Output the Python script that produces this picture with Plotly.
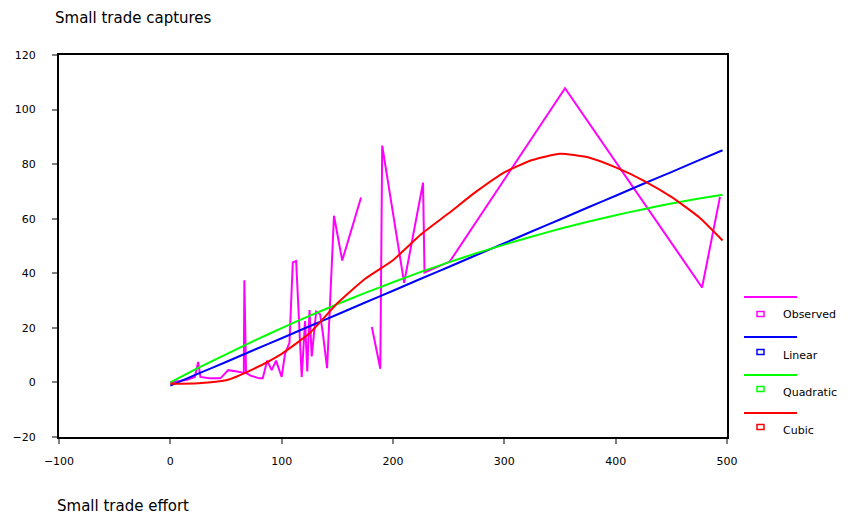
import plotly.graph_objects as go

# ---- data ----
obs_x = [0, 8, 15, 22, 25, 27, 35, 45, 52, 60, 66, 66.5, 68, 72, 80, 83, 87, 91, 95, 100,
         103, 107, 110, 113, 118, 121, 123, 125, 127, 131, 134.5, 137, 140.8, 147, 154.4, 171.3,
         176, 181, 188.6, 190.3, 210, 227, 228.3, 238, 251, 354.5, 477.6, 493.7]
obs_y = [0, 0.5, 1, 2, 7.5, 2, 1.5, 1.5, 4.5, 4, 3.5, 37.4, 3.5, 2.5, 1.5, 1.5, 8, 4.5, 8, 2,
         10.5, 14.5, 44, 44.5, 2, 22.5, 4, 26.5, 9.5, 26, 25, 18, 5.2, 61.1, 44.7, 67.8,
         None, 20.3, 5.0, 86.8, 36.5, 73.2, 40.3, 42, 44.3, 107.8, 34.8, 68.0]

fit_x = [0, 25, 50, 75, 100, 125, 150, 175, 200, 225, 250, 275, 300, 325, 350, 375, 400,
         425, 450, 475, 496]
linear_y = [-1.2, 3.2, 7.5, 11.9, 16.2, 20.6, 24.9, 29.3, 33.6, 38.0, 42.3, 46.7, 51.0,
            55.4, 59.7, 64.1, 68.4, 72.8, 77.1, 81.5, 85.1]
quadratic_y = [0.0, 5.3, 10.3, 15.2, 19.9, 24.4, 28.7, 32.8, 36.7, 40.5, 44.0, 47.4, 50.5,
               53.5, 56.3, 58.9, 61.3, 63.5, 65.6, 67.4, 68.8]
cubic_y = [-0.5, -0.3, 0.8, 5.0, 10.5, 18.0, 29.0, 38.0, 44.8, 54.2, 62.0, 70.0, 77.0,
           81.5, 83.8, 82.5, 78.8, 74.0, 68.0, 60.5, 52.0]

series_names = ["Observed", "Linear", "Quadratic", "Cubic"]
series_colors = ["#FF00FF", "#0000FF", "#00FF00", "#FF0000"]

x_ticks = [-100, 0, 100, 200, 300, 400, 500]
y_ticks = [-20, 0, 20, 40, 60, 80, 100, 120]

title_text = "Small trade captures"
xlabel_text = "Small trade effort"

# ---- figure ----
fig = go.Figure()
fig.add_trace(go.Scatter(x=obs_x, y=obs_y, mode="lines", name=series_names[0],
                         line=dict(color=series_colors[0], width=2), connectgaps=False))
for name, color, ys in zip(series_names[1:], series_colors[1:], [linear_y, quadratic_y, cubic_y]):
    fig.add_trace(go.Scatter(x=fit_x, y=ys, mode="lines", name=name,
                             line=dict(color=color, width=2, shape="spline", smoothing=0.5)))

# plot area geometry (pixels) for paper conversions of the custom legend
L, R, T, B = 59, 727, 55, 437
W, H = 848, 516


def px(xp):
    return (xp - L) / (R - L)


def py(yp):
    return (B - yp) / (B - T)


shapes = []
annotations = []
line_y = [297, 337, 375, 413]
sq_y = [314, 352, 389, 427]
txt_y = [314, 355, 392, 430]
for i, (name, color) in enumerate(zip(series_names, series_colors)):
    shapes.append(dict(type="line", xref="paper", yref="paper",
                       x0=px(744), x1=px(797), y0=py(line_y[i]), y1=py(line_y[i]),
                       line=dict(color=color, width=2)))
    shapes.append(dict(type="rect", xref="paper", yref="paper",
                       x0=px(757), x1=px(764), y0=py(sq_y[i] + 2.5), y1=py(sq_y[i] - 2.5),
                       line=dict(color=color, width=1.5), fillcolor="white"))
    annotations.append(dict(text=name, xref="paper", yref="paper", x=px(781), y=py(txt_y[i]),
                            xanchor="left", yanchor="middle", showarrow=False,
                            font=dict(family="DejaVu Sans", size=11, color="black")))

annotations.append(dict(text=title_text, xref="paper", yref="paper", x=px(53), y=py(18),
                        xanchor="left", yanchor="middle", showarrow=False,
                        font=dict(family="DejaVu Sans", size=15, color="black")))
annotations.append(dict(text=xlabel_text, xref="paper", yref="paper", x=px(55), y=py(506),
                        xanchor="left", yanchor="middle", showarrow=False,
                        font=dict(family="DejaVu Sans", size=15, color="black")))

axis_common = dict(showgrid=False, zeroline=False, showline=True, mirror=True,
                   linecolor="black", linewidth=2, ticks="outside", ticklen=5,
                   tickwidth=2, tickcolor="#808080",
                   tickfont=dict(family="DejaVu Sans", size=11, color="black"))

fig.update_layout(
    width=W, height=H,
    margin=dict(l=L, r=W - R, t=T, b=H - B, autoexpand=False),
    plot_bgcolor="white", paper_bgcolor="white",
    showlegend=False,
    xaxis=dict(range=[-100, 500], tickvals=x_ticks, ticklabelstandoff=8, automargin=False,
               **axis_common),
    yaxis=dict(range=[-20, 120], tickvals=y_ticks, ticklabelstandoff=14, automargin=False,
               **axis_common),
    shapes=shapes,
    annotations=annotations,
)

fig.write_html("out.html", config={"displayModeBar": False},
               post_script="document.body.style.margin='0';document.body.style.overflow='hidden';")
